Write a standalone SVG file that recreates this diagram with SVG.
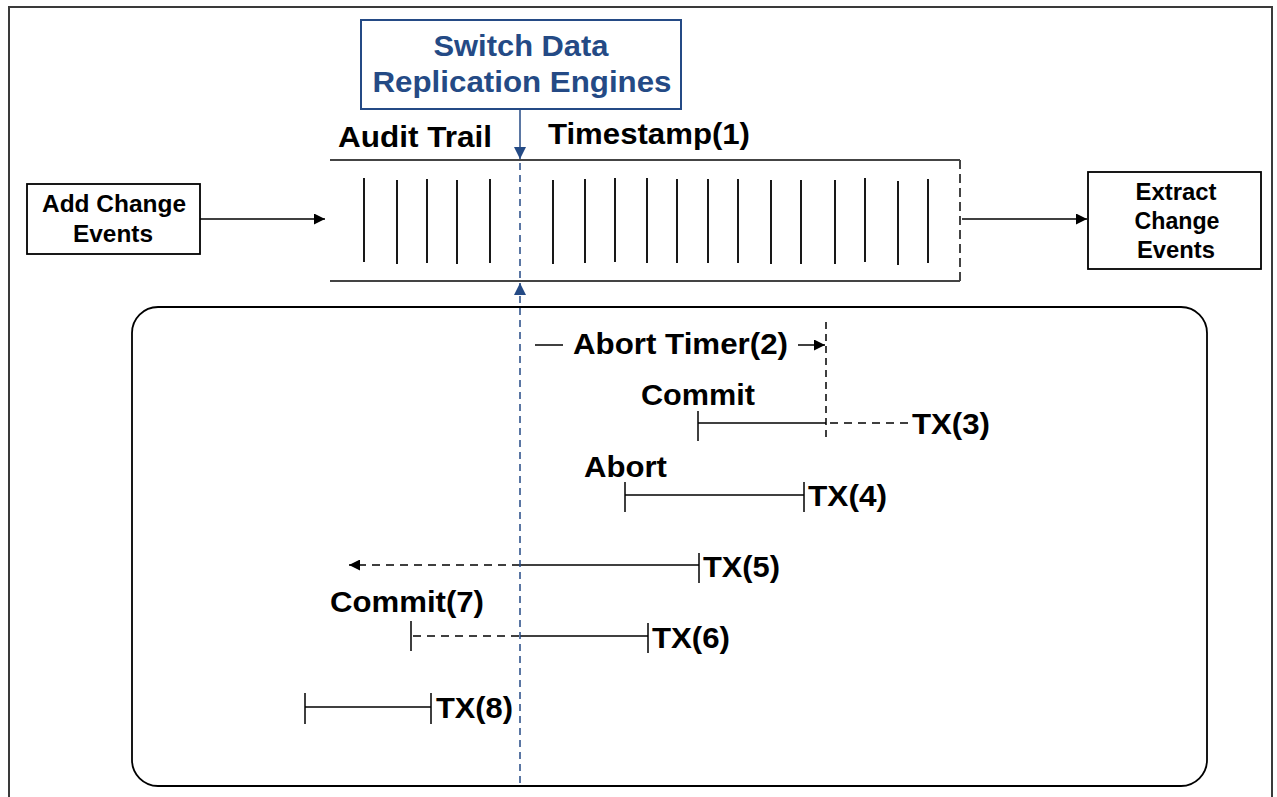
<svg xmlns="http://www.w3.org/2000/svg" width="1277" height="797" viewBox="0 0 1277 797">
<style>
text{font-family:"Liberation Sans",Arial,sans-serif;font-weight:bold;fill:#000}
.lbl{font-size:29px}
.box{font-size:23.5px}
.blue{fill:#244A85;font-size:30px}
.ln{stroke:#000;stroke-width:1.5;fill:none}
.gl{stroke:#444;stroke-width:2;fill:none}
.dash{stroke:#000;stroke-width:1.5;fill:none;stroke-dasharray:8,6}
.tick{stroke:#000;stroke-width:1.5}
</style>
<defs>
<marker id="ah" viewBox="0 0 10 10" refX="10" refY="5" markerWidth="11" markerHeight="11" markerUnits="userSpaceOnUse" orient="auto"><path d="M0,0L10,5L0,10z" fill="#000"/></marker>
<marker id="bh" viewBox="0 0 10 10" refX="10" refY="5" markerWidth="12" markerHeight="12" markerUnits="userSpaceOnUse" orient="auto"><path d="M0,0L10,5L0,10z" fill="#244A85"/></marker>
</defs>
<rect x="0" y="0" width="1277" height="797" fill="#fff"/>
<rect id="frame" x="9" y="7" width="1263" height="800" fill="none" stroke="#3a3a3a" stroke-width="2"/>

<g id="engines">
<rect x="361" y="20" width="320" height="89" fill="#fff" stroke="#244A85" stroke-width="2"/>
<text class="blue" x="521" y="56" text-anchor="middle" textLength="175" lengthAdjust="spacingAndGlyphs">Switch Data</text>
<text class="blue" x="522" y="92" text-anchor="middle" textLength="299" lengthAdjust="spacingAndGlyphs">Replication Engines</text>
</g>

<g id="audit-trail">
<text class="lbl" x="338" y="147" textLength="154" lengthAdjust="spacingAndGlyphs">Audit Trail</text>
<text class="lbl" x="548" y="144" textLength="202" lengthAdjust="spacingAndGlyphs">Timestamp(1)</text>
<path class="gl" d="M330,160H960M330,281H960"/>
<path d="M960,160V281" stroke="#444" stroke-width="2" stroke-dasharray="9,5" fill="none"/>
<g stroke="#000" stroke-width="1.8">
<path d="M364,178V262M397,180V264M427,179V263M457,180V264M490,179V263M553,180V264M585,179V263M615,178V262M647,178V263M677,179V263M708,179V263M738,179V263M771,180V264M801,180V264M835,180V264M865,178V262M898,181V265M928,179V263"/>
</g>
</g>

<g id="add-change">
<rect x="27" y="184" width="173" height="70" fill="#fff" stroke="#000" stroke-width="1.8"/>
<text class="box" x="114" y="212" text-anchor="middle" textLength="144" lengthAdjust="spacingAndGlyphs">Add Change</text>
<text class="box" x="113" y="242" text-anchor="middle" textLength="80" lengthAdjust="spacingAndGlyphs">Events</text>
</g>

<g id="extract-change">
<rect x="1088" y="172" width="173" height="97" fill="#fff" stroke="#000" stroke-width="1.8"/>
<text class="box" x="1176" y="200" text-anchor="middle" textLength="81" lengthAdjust="spacingAndGlyphs">Extract</text>
<text class="box" x="1177" y="229" text-anchor="middle" textLength="85" lengthAdjust="spacingAndGlyphs">Change</text>
<text class="box" x="1176" y="258" text-anchor="middle" textLength="78" lengthAdjust="spacingAndGlyphs">Events</text>
</g>

<g id="timeline-panel">
<rect x="132" y="307" width="1075" height="479" rx="26" ry="26" fill="none" stroke="#000" stroke-width="1.8"/>
</g>

<g id="abort-timer">
<path class="ln" d="M535,345H563"/>
<text class="lbl" x="573" y="354" textLength="215" lengthAdjust="spacingAndGlyphs">Abort Timer(2)</text>
<path class="ln" d="M798,345H825" marker-end="url(#ah)"/>
<path d="M826,322V441" stroke="#000" stroke-width="1.5" stroke-dasharray="7,5" fill="none"/>
</g>

<g id="tx3">
<text class="lbl" x="641" y="405" textLength="114" lengthAdjust="spacingAndGlyphs">Commit</text>
<path class="tick" d="M698,411V441"/>
<path class="ln" d="M698,423H826"/>
<path class="dash" d="M830,423H908"/>
<text class="lbl" x="912" y="434" textLength="78" lengthAdjust="spacingAndGlyphs">TX(3)</text>
</g>

<g id="tx4">
<text class="lbl" x="584" y="477" textLength="83" lengthAdjust="spacingAndGlyphs">Abort</text>
<path class="tick" d="M625,482V512M804,482V512"/>
<path class="ln" d="M625,495H804"/>
<text class="lbl" x="808" y="506" textLength="79" lengthAdjust="spacingAndGlyphs">TX(4)</text>
</g>

<g id="tx5">
<path class="tick" d="M699,553V583"/>
<path class="ln" d="M520,565H699"/>
<path class="dash" d="M520,565H349" marker-end="url(#ah)"/>
<text class="lbl" x="703" y="577" textLength="77" lengthAdjust="spacingAndGlyphs">TX(5)</text>
</g>

<g id="tx6">
<text class="lbl" x="330" y="612" textLength="154" lengthAdjust="spacingAndGlyphs">Commit(7)</text>
<path class="tick" d="M411,621V651M648,623V653"/>
<path class="dash" d="M413,636H520"/>
<path class="ln" d="M520,636H648"/>
<text class="lbl" x="652" y="648" textLength="78" lengthAdjust="spacingAndGlyphs">TX(6)</text>
</g>

<g id="tx8">
<path class="tick" d="M305,693V724M431,693V724"/>
<path class="ln" d="M305,707H431"/>
<text class="lbl" x="436" y="718" textLength="77" lengthAdjust="spacingAndGlyphs">TX(8)</text>
</g>

<g id="connectors">
<path class="ln" d="M200,219H325" marker-end="url(#ah)"/>
<path class="ln" d="M962,219H1087" marker-end="url(#ah)"/>
<path d="M520,109V159" stroke="#244A85" stroke-width="1.5" fill="none" marker-end="url(#bh)"/>
<path d="M520,163V281" stroke="#244A85" stroke-width="1.5" stroke-dasharray="7,5" fill="none"/>
<path d="M520,294V283" stroke="#244A85" stroke-width="1.5" fill="none" marker-end="url(#bh)"/>
<path d="M520,296V786" stroke="#244A85" stroke-width="1.5" stroke-dasharray="7,5" fill="none"/>
</g>
</svg>
